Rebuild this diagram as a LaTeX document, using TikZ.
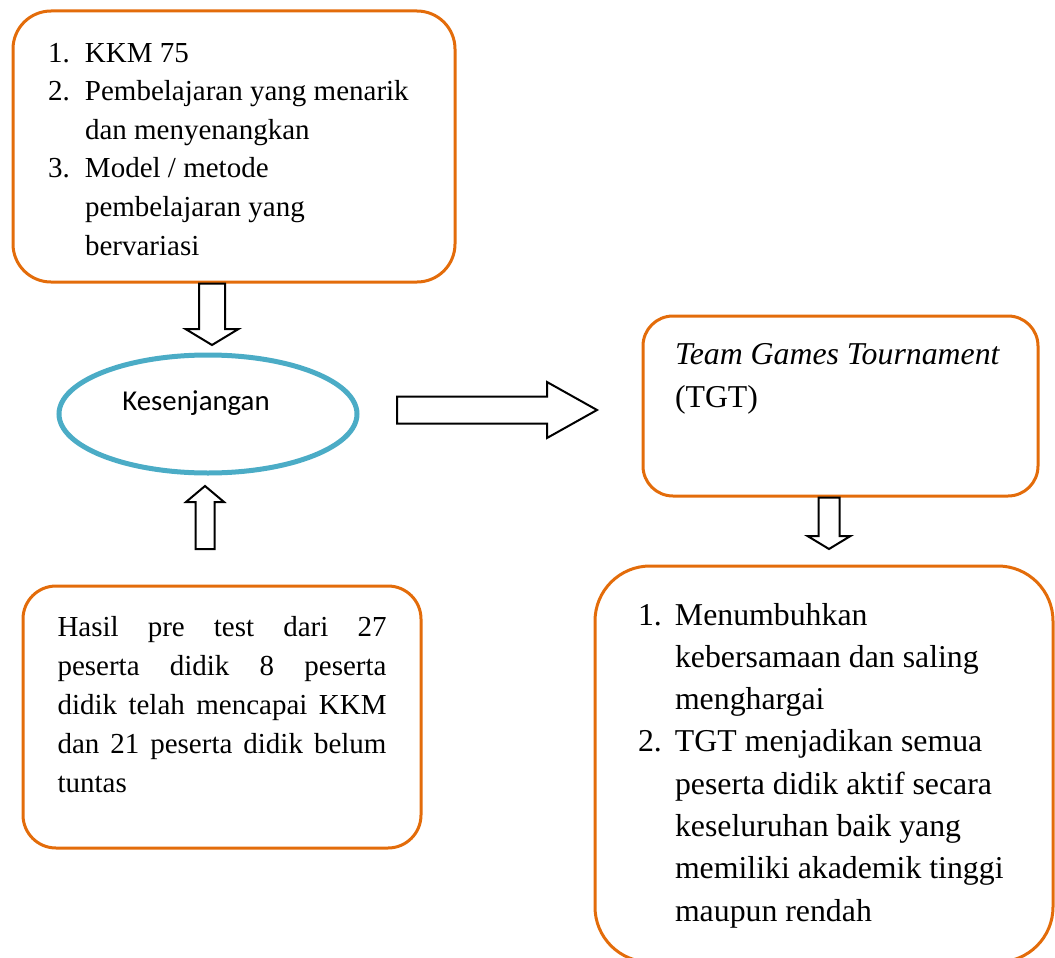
\documentclass[tikz,border=0pt]{standalone}
\usepackage{fontspec}
\setmainfont{Liberation Serif}
\newfontfamily\carlito{Carlito}
\usepackage{tikz}
\usetikzlibrary{calc,shapes.geometric}
\definecolor{oranye}{HTML}{E36C0A}
\definecolor{biru}{HTML}{4BACC6}
\newcommand{\hurufA}{\fontsize{29}{38.6}\selectfont}
\newcommand{\hurufC}{\fontsize{29}{39}\selectfont}
\newcommand{\hurufB}{\fontsize{31.8}{42.3}\selectfont}
\newcommand{\butir}[2]{\hangindent=37pt\hangafter=1\noindent\makebox[37pt][l]{#1}#2\par}

\begin{document}
\begin{tikzpicture}[x=1pt,y=-1pt,
    kotak/.style={draw=oranye,line width=3pt,inner sep=0pt,rounded corners=#1},
    kotak/.default=38pt,
    elips/.style={ellipse,draw=biru,line width=5pt,inner sep=0pt,minimum width=298pt,minimum height=118pt,
                  font=\carlito\fontsize{28.8}{34}\selectfont,text height=0pt,text depth=8pt},
    panah/.style n args={3}{draw=black,line width=2pt,fill=white,line join=miter,
      to path={($(\tikztostart)!#1!90:(\tikztotarget)$)
        -- ($($(\tikztotarget)!#3!(\tikztostart)$)!#1!90:(\tikztotarget)$)
        -- ($($(\tikztotarget)!#3!(\tikztostart)$)!#2!90:(\tikztotarget)$)
        -- (\tikztotarget)
        -- ($($(\tikztotarget)!#3!(\tikztostart)$)!#2!-90:(\tikztotarget)$)
        -- ($($(\tikztotarget)!#3!(\tikztostart)$)!#1!-90:(\tikztotarget)$)
        -- ($(\tikztostart)!#1!-90:(\tikztotarget)$) -- cycle}}]
  \useasboundingbox (0,0) rectangle (1055,958);
  \node[kotak,minimum width=442pt,minimum height=271pt] (kkm) at (234,146.5) {\parbox[c][209pt][t]{372pt}{\hurufA
    \butir{1.}{\rule{0pt}{20pt}KKM 75}
    \butir{2.}{Pembelajaran yang menarik\\dan menyenangkan}
    \butir{3.}{Model / metode\\pembelajaran yang\\bervariasi}}};
  \node[elips] (gap) at (208,414) {Kesenjangan\hspace*{24pt}};
  \node[kotak=33pt,minimum width=398pt,minimum height=262pt] (hasil) at (222,717) {\parbox[c][202pt][t]{329pt}{\hurufC
    \rule{0pt}{20pt}Hasil pre test dari 27\linebreak peserta didik 8 peserta\linebreak didik telah mencapai KKM\linebreak
    dan 21 peserta didik belum\linebreak tuntas}};
  \node[kotak=30pt,minimum width=395pt,minimum height=180pt] (tgt) at (840.5,406) {\parbox[c][128pt][t]{331pt}{\fontsize{31.8}{43}\selectfont
    \rule{0pt}{22pt}\mbox{\textit{Team Games Tournament}}\\(TGT)}};
  \node[kotak=55pt,minimum width=458pt,minimum height=396pt] (manfaat) at (824,764) {\parbox[c][322pt][t]{372pt}{\hurufB
    \butir{1.}{\rule{0pt}{22pt}Menumbuhkan\\kebersamaan dan saling\\menghargai}
    \butir{2.}{TGT menjadikan semua\\peserta didik aktif secara\\keseluruhan baik yang\\memiliki akademik tinggi\\maupun rendah}}};
  \draw[panah={13pt}{26.5pt}{16pt}] ([xshift=-22pt]kkm.south) to ([xshift=4pt,yshift=7.5pt]gap.north);
  \draw[panah={9.5pt}{19pt}{16pt}] ([xshift=-17pt,yshift=35.5pt]hasil.north) to ([xshift=-3pt,yshift=-10.5pt]gap.south);
  \draw[panah={13.5pt}{28pt}{50pt}] ([xshift=37.5pt,yshift=4pt]gap.east) to ([xshift=-44.5pt,yshift=-4pt]tgt.west);
  \draw[panah={10.5pt}{21.5pt}{13pt}] ([xshift=-11.5pt]tgt.south) to ([xshift=5pt,yshift=15.5pt]manfaat.north);
\end{tikzpicture}
\end{document}
